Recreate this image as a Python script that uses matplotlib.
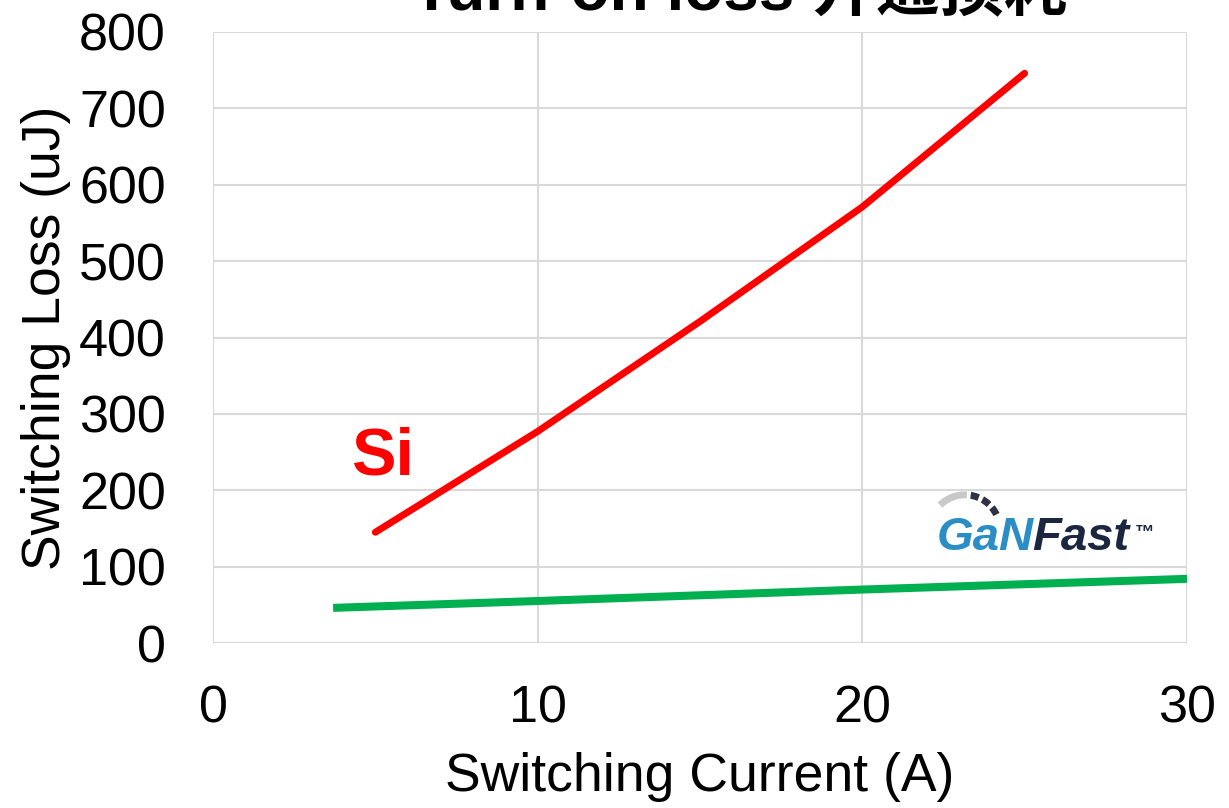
import matplotlib
matplotlib.use('Agg')
import matplotlib.pyplot as plt
from matplotlib.patches import Arc

plt.rcParams['font.family'] = ['Liberation Sans', 'Noto Sans CJK SC', 'DejaVu Sans']

# ----------------------------------------------------------------------------
# data

si_current = [5, 10, 15, 20, 25]
si_loss = [145, 277, 421, 571, 746]

gan_current = [3.7, 10, 20, 30]
gan_loss = [46, 55, 70, 84]

x_ticks = [0, 10, 20, 30]
y_ticks = [0, 100, 200, 300, 400, 500, 600, 700, 800]

title = 'Turn-on loss 开通损耗'

# ----------------------------------------------------------------------------

fig = plt.figure(figsize=(12.29, 8.08), dpi=100)
ax = fig.add_axes([0.1733, 0.2042, 0.7925, 0.7562])

ax.plot(si_current, si_loss, color='#ff0000', linewidth=5, solid_capstyle='round', zorder=3)
ax.plot(gan_current, gan_loss, color='#00b050', linewidth=5.8, solid_capstyle='butt', zorder=3)

ax.set_xlim(0, 30)
ax.set_ylim(0, 800)
ax.set_xticks(x_ticks)
ax.set_yticks(y_ticks)
ax.grid(True, color='#d9d9d9', linewidth=1.5)
ax.set_axisbelow(True)
for s in ax.spines.values():
    s.set_visible(False)
ax.tick_params(length=0, labelsize=37.5)
ax.tick_params(axis='y', pad=34)
ax.tick_params(axis='x', pad=30)

ax.set_xlabel('Switching Current (A)', fontsize=38.5, labelpad=13)
ax.set_ylabel('Switching Loss (uJ)', fontsize=38.5, labelpad=6)

# title sits partly above the top edge, as in the reference
fig.text(0.602, 0.987, title, fontsize=46, fontweight='bold', ha='center', va='baseline',
         family=['Liberation Sans', 'Noto Sans CJK SC'])

ax.text(0.142, 0.275, 'Si', transform=ax.transAxes, color='#ff0000',
        fontsize=48, fontweight='bold', va='baseline')

# GaNFast label
gan = ax.text(0.743, 0.152, 'GaN', transform=ax.transAxes, color='#2a8dc5',
              fontsize=34, fontweight='bold', style='italic', va='baseline')
fast = ax.annotate('Fast', xy=(1, 0), xycoords=gan, xytext=(-1, 0), textcoords='offset points',
                   color='#1b2740', fontsize=34, fontweight='bold', style='italic', va='bottom')
ax.annotate('™', xy=(1, 1), xycoords=fast, xytext=(4, -6), textcoords='offset points',
            color='#1b2740', fontsize=14, fontweight='bold', va='top')

# little gauge arc over the "Ga"
ax.add_patch(Arc((0.772, 0.185), 0.072, 0.115, theta1=88, theta2=122, transform=ax.transAxes,
                 color='#c8c8c8', linewidth=5))
ax.add_patch(Arc((0.772, 0.185), 0.072, 0.115, theta1=38, theta2=86, transform=ax.transAxes,
                 color='#2b3345', linewidth=5, linestyle=(0, (1.2, 0.6))))

fig.savefig('out.png', dpi=100)
